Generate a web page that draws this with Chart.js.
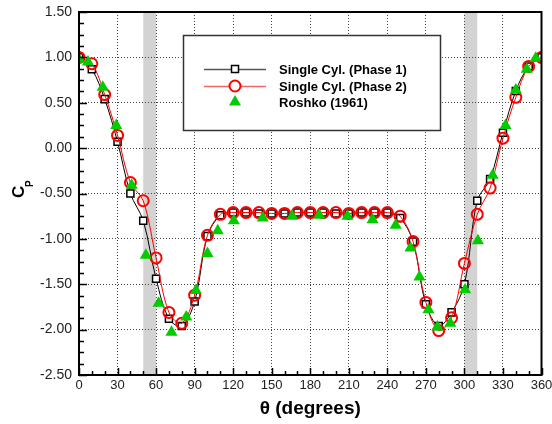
<!DOCTYPE html>
<html>
<head>
<meta charset="utf-8">
<script src="https://cdn.jsdelivr.net/npm/chart.js@4.4.1/dist/chart.umd.min.js"></script>
<style>
  body { margin: 0; background: #fff; }
</style>
</head>
<body>
<canvas id="cp-chart" width="552" height="424"></canvas>
<script>
// pressure coefficient round the cylinder, every 10 degrees
const angles = [0, 10, 20, 30, 40, 50, 60, 70, 80, 90, 100, 110, 120, 130, 140, 150, 160, 170, 180,
    190, 200, 210, 220, 230, 240, 250, 260, 270, 280, 290, 300, 310, 320, 330, 340, 350, 360];
const cpPhase1 = [1.00, 0.87, 0.54, 0.07, -0.50, -0.80, -1.44, -1.88, -1.96, -1.69, -0.97, -0.74, -0.71,
    -0.71, -0.72, -0.72, -0.72, -0.71, -0.71, -0.71, -0.72, -0.72, -0.71, -0.71, -0.71, -0.77, -1.03,
    -1.72, -1.96, -1.81, -1.50, -0.58, -0.34, 0.17, 0.63, 0.90, 1.00];
const cpPhase2 = [1.00, 0.93, 0.59, 0.14, -0.38, -0.58, -1.21, -1.81, -1.93, -1.62, -0.96, -0.73, -0.71,
    -0.71, -0.71, -0.72, -0.72, -0.71, -0.71, -0.71, -0.71, -0.72, -0.71, -0.71, -0.71, -0.75, -1.03,
    -1.70, -2.01, -1.87, -1.27, -0.73, -0.44, 0.11, 0.56, 0.90, 1.00];

// Roshko (1961) measurements
const roshkoAngles = [0, 7, 18.5, 29, 41, 52, 62, 72, 83.5, 91, 100, 108, 120.5, 143, 166, 187, 209,
    228.5, 246.5, 258, 265, 272, 279, 289, 300.5, 310.5, 322, 332, 340, 348.5, 355.5];
const roshkoCp = [0.98, 0.95, 0.67, 0.25, -0.41, -1.18, -1.71, -2.03, -1.86, -1.57, -1.16, -0.91, -0.80,
    -0.77, -0.75, -0.74, -0.75, -0.79, -0.85, -1.10, -1.42, -1.78, -1.97, -1.93, -1.56, -1.02, -0.30,
    0.25, 0.64, 0.87, 0.99];

const shadedBands = [[50, 60], [300, 310]];
const seriesNames = ['Single Cyl. (Phase 1)', 'Single Cyl. (Phase 2)', 'Roshko (1961)'];

const fontFamily = '"Liberation Sans", Arial, sans-serif';

function drawMarker(ctx, style, x, y) {
    ctx.beginPath();
    if (style === 'rect') {
        ctx.rect(x - 3.5, y - 3.5, 7, 7);
        ctx.fillStyle = '#fff';
        ctx.fill();
        ctx.lineWidth = 1.5;
        ctx.strokeStyle = '#000';
        ctx.stroke();
    } else if (style === 'circle') {
        ctx.arc(x, y, 5.5, 0, Math.PI * 2);
        ctx.fillStyle = '#fff';
        ctx.fill();
        ctx.lineWidth = 2;
        ctx.strokeStyle = '#ff0000';
        ctx.stroke();
    } else {
        ctx.moveTo(x, y - 7);
        ctx.lineTo(x + 6, y + 3.5);
        ctx.lineTo(x - 6, y + 3.5);
        ctx.closePath();
        ctx.fillStyle = '#00cc00';
        ctx.fill();
    }
}

const framePlugin = {
    id: 'frame',
    beforeDraw(chart) {
        const { ctx, chartArea: a, scales: { x } } = chart;
        ctx.save();
        ctx.fillStyle = '#d3d3d3';
        shadedBands.forEach(b => {
            const x1 = x.getPixelForValue(b[0]);
            const x2 = x.getPixelForValue(b[1]);
            ctx.fillRect(x1, a.top, x2 - x1, a.bottom - a.top);
        });
        ctx.restore();
    },
    afterDraw(chart) {
        const { ctx, chartArea: a, scales: { x, y } } = chart;
        ctx.save();

        // ticks point inward, minor ones every 10 deg / 0.125
        ctx.strokeStyle = '#000';
        ctx.lineWidth = 1.5;
        ctx.beginPath();
        for (let d = 0; d <= 360; d += 10) {
            const px = Math.round(x.getPixelForValue(d)) + 0.5;
            const len = d % 30 === 0 ? 7 : 4;
            ctx.moveTo(px, a.bottom);
            ctx.lineTo(px, a.bottom - len);
        }
        for (let k = 0; k <= 32; k++) {
            const v = -2.5 + k * 0.125;
            const py = Math.round(y.getPixelForValue(v)) + 0.5;
            const len = k % 4 === 0 ? 8 : 5;
            ctx.moveTo(a.left, py);
            ctx.lineTo(a.left + len, py);
        }
        ctx.stroke();

        // frame
        ctx.lineWidth = 2;
        ctx.strokeRect(a.left, a.top, a.right - a.left, a.bottom - a.top);

        // y axis title: C with subscript P
        ctx.translate(24, 198);
        ctx.rotate(-Math.PI / 2);
        ctx.fillStyle = '#000';
        ctx.textBaseline = 'alphabetic';
        ctx.textAlign = 'left';
        ctx.font = 'bold 17px ' + fontFamily;
        ctx.fillText('C', 0, 0);
        ctx.font = 'bold 10px ' + fontFamily;
        ctx.fillText('P', 11, 9);
        ctx.restore();

        // legend box
        ctx.save();
        ctx.fillStyle = '#fff';
        ctx.fillRect(183.5, 35.5, 257, 95);
        ctx.strokeStyle = '#333';
        ctx.lineWidth = 1.5;
        ctx.strokeRect(183.5, 35.5, 257, 95);
        const rows = [69, 86, 102];
        const styles = ['rect', 'circle', 'triangle'];
        const lineColors = ['#555', '#e66', null];
        rows.forEach((ry, i) => {
            if (lineColors[i]) {
                ctx.beginPath();
                ctx.moveTo(204, ry + 0.5);
                ctx.lineTo(266, ry + 0.5);
                ctx.strokeStyle = lineColors[i];
                ctx.lineWidth = 1.5;
                ctx.stroke();
            }
            drawMarker(ctx, styles[i], 235, ry);
            ctx.fillStyle = '#000';
            ctx.font = 'bold 13px ' + fontFamily;
            ctx.textBaseline = 'middle';
            ctx.textAlign = 'left';
            ctx.fillText(seriesNames[i], 279, ry + 1);
        });
        ctx.restore();
    }
};

new Chart(document.getElementById('cp-chart'), {
    type: 'line',
    data: {
        datasets: [{
            label: seriesNames[0],
            data: angles.map((a, i) => ({ x: a, y: cpPhase1[i] })),
            borderColor: '#000',
            borderWidth: 1,
            tension: 0.35,
            pointStyle: 'rect',
            pointRadius: 5,
            pointBorderWidth: 1.5,
            pointBorderColor: '#000',
            pointBackgroundColor: '#fff',
            order: 2
        }, {
            label: seriesNames[1],
            data: angles.map((a, i) => ({ x: a, y: cpPhase2[i] })),
            borderColor: '#ff0000',
            borderWidth: 1,
            tension: 0.35,
            pointStyle: 'circle',
            pointRadius: 5.5,
            pointBorderWidth: 2,
            pointBorderColor: '#ff0000',
            pointBackgroundColor: 'rgba(255,255,255,0)',
            order: 1
        }, {
            label: seriesNames[2],
            data: roshkoAngles.map((a, i) => ({ x: a, y: roshkoCp[i] })),
            showLine: false,
            pointStyle: 'triangle',
            pointRadius: 7,
            pointBorderWidth: 0,
            pointBorderColor: '#00cc00',
            pointBackgroundColor: '#00cc00',
            order: 0
        }]
    },
    options: {
        responsive: false,
        animation: false,
        devicePixelRatio: 1,
        layout: { padding: 0 },
        plugins: { legend: { display: false }, tooltip: { enabled: false } },
        scales: {
            x: {
                type: 'linear',
                min: 0,
                max: 360,
                ticks: {
                    stepSize: 30,
                    autoSkip: false,
                    maxRotation: 0,
                    padding: 3,
                    color: '#222',
                    font: { family: fontFamily, size: 13 }
                },
                grid: { color: '#444', drawTicks: false, lineWidth: 1 },
                border: { display: false, dash: [1, 2] },
                title: {
                    display: true,
                    text: 'θ (degrees)',
                    color: '#000',
                    font: { family: fontFamily, size: 19, weight: 'bold' },
                    padding: { top: 0, bottom: 4 }
                },
                afterFit(scale) {
                    scale.height = 49;
                    scale.paddingLeft = 0;
                    scale.paddingRight = 10.5;
                }
            },
            y: {
                min: -2.5,
                max: 1.5,
                ticks: {
                    stepSize: 0.5,
                    padding: 7,
                    color: '#222',
                    font: { family: fontFamily, size: 14 },
                    callback: v => v.toFixed(2)
                },
                grid: { color: '#444', drawTicks: false, lineWidth: 1 },
                border: { display: false, dash: [1, 2] },
                afterFit(scale) {
                    scale.width = 79;
                    scale.paddingTop = 12;
                    scale.paddingBottom = 0;
                }
            }
        }
    },
    plugins: [framePlugin]
});
</script>
</body>
</html>
